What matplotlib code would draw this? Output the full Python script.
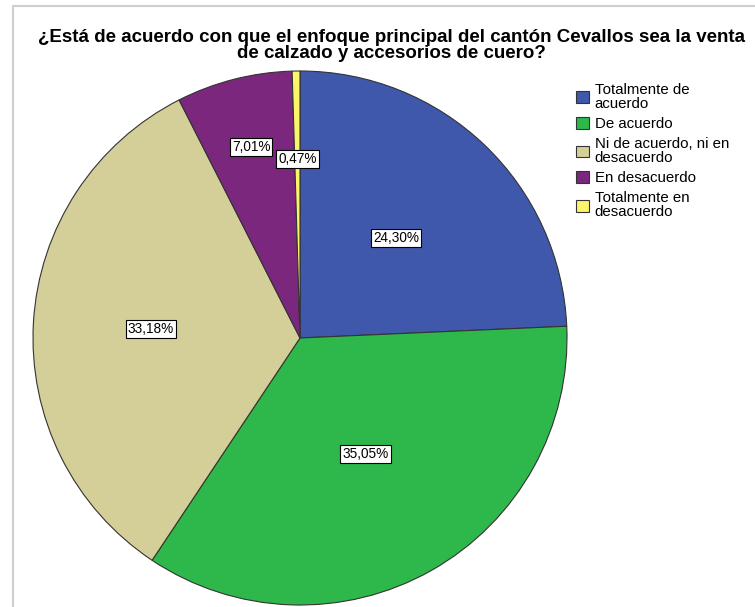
import matplotlib.pyplot as plt
from matplotlib.patches import Rectangle, Patch
import numpy as np

plt.rcParams['font.family'] = ['Liberation Sans', 'DejaVu Sans']

categories = ["Totalmente de\nacuerdo", "De acuerdo", "Ni de acuerdo, ni en\ndesacuerdo",
              "En desacuerdo", "Totalmente en\ndesacuerdo"]
percents = [24.30, 35.05, 33.18, 7.01, 0.47]
pct_labels = ["24,30%", "35,05%", "33,18%", "7,01%", "0,47%"]
colors = ["#3F58AB", "#2EB84B", "#D4CF98", "#7A277D", "#FBF46C"]
label_dist = [0.52, 0.50, 0.56, 0.74, 0.67]

W, H = 755, 607
fig = plt.figure(figsize=(W / 100, H / 100), dpi=100)

# outer frame (only left and top visible in the crop)
fig.patches.append(Rectangle((12.5 / W, -0.1), 1.1, (H - 6) / H + 0.1, transform=fig.transFigure,
                             fill=False, edgecolor="#CFCFCF", linewidth=1.5))

cx, cy, r = 300, 338, 267
ax = fig.add_axes([(cx - r) / W, (H - cy - r) / H, 2 * r / W, 2 * r / H])
wedges, _ = ax.pie(percents, colors=colors, startangle=90, counterclock=False, radius=1,
                   wedgeprops=dict(edgecolor="#333333", linewidth=0.8))
ax.set_xlim(-1, 1)
ax.set_ylim(-1, 1)
ax.set_aspect("equal")
ax.axis("off")

for w, lab, d in zip(wedges, pct_labels, label_dist):
    ang = np.deg2rad((w.theta1 + w.theta2) / 2)
    ax.text(d * np.cos(ang), d * np.sin(ang), lab, ha="center", va="center", fontsize=9.8,
            bbox=dict(boxstyle="square,pad=0.15", facecolor="white", edgecolor="black", linewidth=0.8))

fig.text(391 / W, 1 - 29 / H, "¿Está de acuerdo con que el enfoque principal del cantón Cevallos sea la venta\n"
         "de calzado y accesorios de cuero?", ha="center", va="top", fontsize=13.5,
         fontweight="bold", linespacing=0.95)

handles = [Patch(facecolor=c, edgecolor="#333333", linewidth=0.8) for c in colors]
fig.legend(handles, categories, loc="upper left", bbox_to_anchor=(576 / W, 1 - 83 / H),
           frameon=False, fontsize=10.8, handlelength=0.85, handleheight=0.85, handletextpad=0.4,
           labelspacing=0.4, borderpad=0, borderaxespad=0)
for t in fig.legends[0].get_texts():
    t.set_linespacing(1.0)

fig.savefig("out.png", dpi=100)
